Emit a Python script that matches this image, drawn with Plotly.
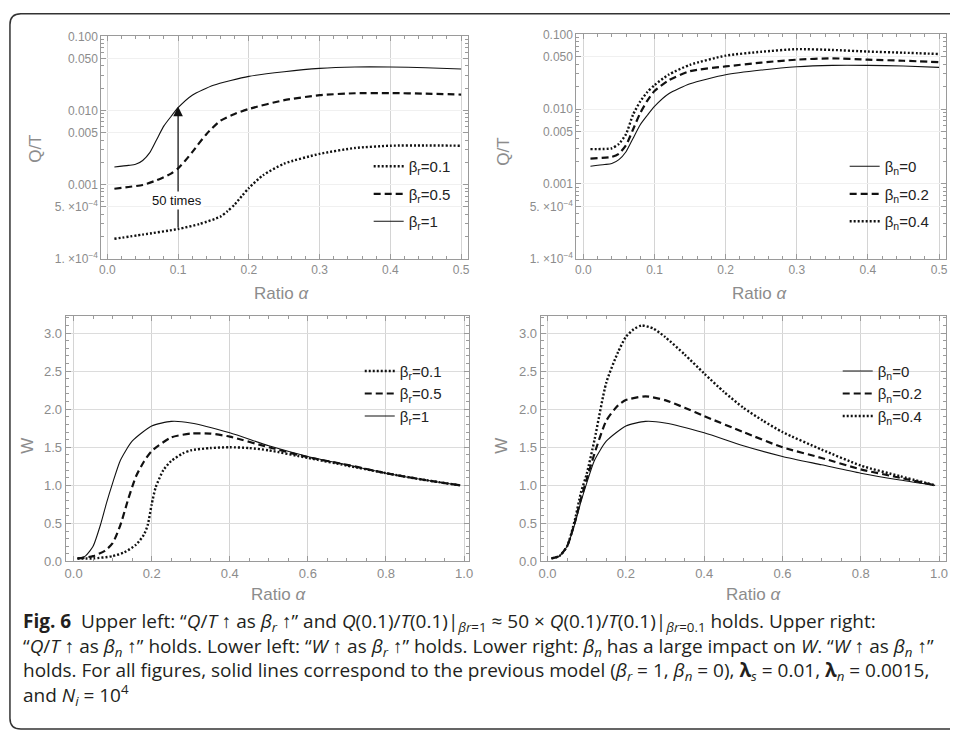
import math
import plotly.graph_objects as go

W, H = 954, 737

# ---------------- data ----------------
# Upper panels: Q/T vs ratio alpha
qt_base_x = [0.01, 0.03, 0.04, 0.05, 0.06, 0.07, 0.08, 0.09, 0.1, 0.12, 0.15, 0.2, 0.25, 0.3, 0.35, 0.4, 0.45, 0.5]
qt_base_y = [0.00173, 0.00182, 0.00188, 0.00212, 0.0027, 0.0041, 0.0062, 0.0083, 0.0109, 0.0161, 0.0219, 0.0289, 0.0334, 0.037, 0.0386, 0.0386, 0.0378, 0.0363]

qt_br05_x = [0.01, 0.03, 0.05, 0.07, 0.09, 0.1, 0.11, 0.12, 0.14, 0.16, 0.18, 0.2, 0.25, 0.3, 0.35, 0.4, 0.45, 0.5]
qt_br05_y = [0.00088, 0.00093, 0.00099, 0.00115, 0.00141, 0.00166, 0.0021, 0.00275, 0.0048, 0.0073, 0.0090, 0.0105, 0.0138, 0.0161, 0.0171, 0.0172, 0.0169, 0.0164]

qt_br01_x = [0.01, 0.05, 0.1, 0.13, 0.16, 0.17, 0.18, 0.19, 0.2, 0.22, 0.25, 0.3, 0.35, 0.4, 0.45, 0.5]
qt_br01_y = [0.000186, 0.000212, 0.000252, 0.000294, 0.00037, 0.00044, 0.00054, 0.0007, 0.0009, 0.00134, 0.00192, 0.0026, 0.00312, 0.00335, 0.00338, 0.00335]

qt_bn02_x = [0.01, 0.04, 0.05, 0.06, 0.07, 0.08, 0.09, 0.1, 0.12, 0.15, 0.2, 0.25, 0.3, 0.35, 0.4, 0.45, 0.5]
qt_bn02_y = [0.00219, 0.0023, 0.00254, 0.0033, 0.0054, 0.0089, 0.013, 0.0175, 0.0244, 0.0323, 0.0373, 0.042, 0.046, 0.0479, 0.046, 0.0445, 0.0425]

qt_bn04_x = [0.01, 0.04, 0.05, 0.06, 0.07, 0.08, 0.09, 0.1, 0.12, 0.15, 0.2, 0.25, 0.3, 0.35, 0.4, 0.45, 0.5]
qt_bn04_y = [0.00293, 0.0030, 0.00344, 0.00465, 0.0085, 0.0127, 0.017, 0.021, 0.029, 0.0393, 0.052, 0.0586, 0.0635, 0.062, 0.059, 0.057, 0.0547]

# Lower panels: W vs ratio alpha
w_base_x = [0.01, 0.03, 0.05, 0.07, 0.085, 0.1, 0.12, 0.15, 0.2, 0.25, 0.3, 0.4, 0.5, 0.6, 0.7, 0.8, 0.9, 0.99]
w_base_y = [0.04, 0.07, 0.2, 0.5, 0.78, 1.03, 1.33, 1.58, 1.78, 1.84, 1.82, 1.69, 1.52, 1.38, 1.27, 1.16, 1.07, 1.0]

w_br05_x = [0.01, 0.05, 0.08, 0.1, 0.12, 0.14, 0.16, 0.18, 0.2, 0.25, 0.3, 0.35, 0.4, 0.5, 0.6, 0.7, 0.8, 0.9, 0.99]
w_br05_y = [0.04, 0.07, 0.14, 0.24, 0.48, 0.82, 1.12, 1.31, 1.45, 1.63, 1.68, 1.68, 1.64, 1.5, 1.37, 1.27, 1.16, 1.07, 1.0]

w_br01_x = [0.01, 0.05, 0.1, 0.13, 0.16, 0.18, 0.19, 0.2, 0.21, 0.23, 0.25, 0.28, 0.3, 0.35, 0.4, 0.45, 0.5, 0.6, 0.7, 0.8, 0.9, 0.99]
w_br01_y = [0.04, 0.04, 0.07, 0.12, 0.22, 0.35, 0.48, 0.75, 0.97, 1.2, 1.32, 1.42, 1.46, 1.49, 1.5, 1.49, 1.46, 1.36, 1.26, 1.16, 1.07, 1.0]

w_bn02_x = [0.01, 0.03, 0.05, 0.07, 0.085, 0.1, 0.12, 0.15, 0.18, 0.2, 0.25, 0.3, 0.35, 0.4, 0.5, 0.6, 0.7, 0.8, 0.9, 0.99]
w_bn02_y = [0.04, 0.07, 0.2, 0.52, 0.82, 1.08, 1.42, 1.85, 2.05, 2.12, 2.17, 2.12, 2.02, 1.91, 1.7, 1.5, 1.36, 1.21, 1.1, 1.0]

w_bn04_x = [0.01, 0.03, 0.05, 0.07, 0.085, 0.1, 0.12, 0.15, 0.18, 0.2, 0.22, 0.24, 0.27, 0.3, 0.35, 0.4, 0.45, 0.5, 0.55, 0.6, 0.7, 0.8, 0.9, 0.99]
w_bn04_y = [0.04, 0.07, 0.2, 0.55, 0.9, 1.15, 1.6, 2.35, 2.75, 2.95, 3.05, 3.1, 3.06, 2.95, 2.72, 2.47, 2.23, 2.02, 1.85, 1.7, 1.47, 1.26, 1.12, 1.0]

qt_tickvals = [1e-4, 5e-4, 1e-3, 5e-3, 0.01, 0.05, 0.1]
qt_ticktext = ["1. \u00d710<sup>\u22124</sup>", "5. \u00d710<sup>\u22124</sup>", "0.001", "0.005", "0.010", "0.050", "0.100"]
qt_minor = [k * 10 ** e for e in (-4, -3, -2) for k in (2, 3, 4, 6, 7, 8, 9)]

# arrow in upper-left panel
arrow_alpha = 0.1
arrow_from = 0.000252
arrow_to = 0.0113
arrow_label = "50 times"
arrow_label_y = 0.00061

# ---------------- styles ----------------
SOLID = dict(color="#111", width=1.1, dash="solid")
DASH = dict(color="#111", width=2.2, dash="7px,4px")
DOT = dict(color="#111", width=2.4, dash="2px,2px")

GRAY = "#8c8c8c"
FAM = "Liberation Sans, Arial, sans-serif"
LEGFONT = dict(family=FAM, size=15, color="#222")


def fx(p):
    return p / W


def fy(p):
    return 1 - p / H


fig = go.Figure()


def add(x, y, line, name, xa, ya, legend, group):
    fig.add_trace(go.Scatter(x=x, y=y, mode="lines", line=line, name=name,
                             xaxis=xa, yaxis=ya, legend=legend, legendgroup=group,
                             line_shape="spline", line_smoothing=0.6, hoverinfo="skip"))


# upper left
add(qt_br01_x, qt_br01_y, DOT, "\u03b2<sub>r</sub>=0.1", "x", "y", "legend", "a1")
add(qt_br05_x, qt_br05_y, DASH, "\u03b2<sub>r</sub>=0.5", "x", "y", "legend", "a2")
add(qt_base_x, qt_base_y, SOLID, "\u03b2<sub>r</sub>=1", "x", "y", "legend", "a3")
# upper right
add(qt_base_x, qt_base_y, SOLID, "\u03b2<sub>n</sub>=0", "x2", "y2", "legend2", "b1")
add(qt_bn02_x, qt_bn02_y, DASH, "\u03b2<sub>n</sub>=0.2", "x2", "y2", "legend2", "b2")
add(qt_bn04_x, qt_bn04_y, DOT, "\u03b2<sub>n</sub>=0.4", "x2", "y2", "legend2", "b3")
# lower left
add(w_br01_x, w_br01_y, DOT, "\u03b2<sub>r</sub>=0.1", "x3", "y3", "legend3", "c1")
add(w_br05_x, w_br05_y, DASH, "\u03b2<sub>r</sub>=0.5", "x3", "y3", "legend3", "c2")
add(w_base_x, w_base_y, SOLID, "\u03b2<sub>r</sub>=1", "x3", "y3", "legend3", "c3")
# lower right
add(w_base_x, w_base_y, SOLID, "\u03b2<sub>n</sub>=0", "x4", "y4", "legend4", "d1")
add(w_bn02_x, w_bn02_y, DASH, "\u03b2<sub>n</sub>=0.2", "x4", "y4", "legend4", "d2")
add(w_bn04_x, w_bn04_y, DOT, "\u03b2<sub>n</sub>=0.4", "x4", "y4", "legend4", "d3")


def axis_common(fs):
    return dict(showline=True, linecolor="#9a9a9a", linewidth=1, mirror="allticks",
                ticks="inside", ticklen=5, tickcolor="#9a9a9a", tickwidth=1,
                tickfont=dict(family=FAM, size=fs, color=GRAY), zeroline=False,
                showgrid=True, gridwidth=1.2)


def xaxis(dom, rng, dtick, mdtick, anchor, fs):
    d = axis_common(fs)
    d.update(domain=[fx(dom[0]), fx(dom[1])], range=rng, dtick=dtick, tick0=0,
             tickformat=".1f", gridcolor="#d4d4d4", anchor=anchor,
             minor=dict(ticks="inside", ticklen=3, tickcolor="#9a9a9a", dtick=mdtick, tick0=0, showgrid=False))
    return d


def yaxis_log(dom, anchor, fs):
    d = axis_common(fs)
    d.update(domain=[fy(dom[1]), fy(dom[0])], type="log", range=[-4, -1],
             tickmode="array", tickvals=qt_tickvals, ticktext=qt_ticktext,
             gridcolor="#f0f0f0", gridwidth=1, anchor=anchor,
             minor=dict(ticks="inside", ticklen=3, tickcolor="#9a9a9a", tickmode="array",
                        tickvals=qt_minor, showgrid=False))
    return d


def yaxis_lin(dom, anchor, fs):
    d = axis_common(fs)
    d.update(domain=[fy(dom[1]), fy(dom[0])], range=[0, 3.23], dtick=0.5, tick0=0,
             tickformat=".1f", gridcolor="#dcdcdc", gridwidth=1, anchor=anchor,
             minor=dict(ticks="inside", ticklen=3, tickcolor="#9a9a9a", dtick=0.1, tick0=0, showgrid=False))
    return d


layout = dict(
    width=W, height=H, autosize=False,
    margin=dict(l=0, r=0, t=0, b=0),
    paper_bgcolor="white", plot_bgcolor="white",
    showlegend=True,
    xaxis=xaxis((100, 469), [-0.0084, 0.5098], 0.1, 0.02, "y", 12),
    yaxis=yaxis_log((30, 257), "x", 12),
    xaxis2=xaxis((578, 950), [-0.0098, 0.5098], 0.1, 0.02, "y2", 12),
    yaxis2=yaxis_log((28, 257), "x2", 12),
    xaxis3=xaxis((64, 470), [-0.0204, 1.0127], 0.2, 0.05, "y3", 13),
    yaxis3=yaxis_lin((315, 566), "x3", 13),
    xaxis4=xaxis((542, 950), [-0.0178, 1.0178], 0.2, 0.05, "y4", 13),
    yaxis4=yaxis_lin((315, 566), "x4", 13),
)


def legend(xp, yp, gap):
    return dict(x=fx(xp), y=fy(yp), xanchor="left", yanchor="top", bgcolor="rgba(0,0,0,0)",
                font=LEGFONT, tracegroupgap=gap, traceorder="grouped", borderwidth=0)


layout["legend"] = legend(369, 146, 5)
layout["legend2"] = legend(848, 146, 5)
layout["legend3"] = legend(360, 355, 0)
layout["legend4"] = legend(841, 355, 0)
fig.update_layout(**layout)

# axis titles
TITLEFONT = dict(family=FAM, size=17, color=GRAY)
titles = [
    ("Q/T", 33, 145, -90), ("Ratio <i>\u03b1</i>", 281, 292, 0),
    ("Q/T", 505, 148, -90), ("Ratio <i>\u03b1</i>", 762, 292, 0),
    ("W", 26, 448, -90), ("Ratio <i>\u03b1</i>", 278, 600, 0),
    ("W", 503, 448, -90), ("Ratio <i>\u03b1</i>", 756, 600, 0),
]
for t, x, y, a in titles:
    fig.add_annotation(text=t, x=fx(x), y=fy(y), xref="paper", yref="paper", showarrow=False,
                       textangle=a, font=TITLEFONT, xanchor="center", yanchor="middle")

# arrow "50 times"
fig.add_annotation(x=arrow_alpha, y=math.log10(arrow_to), ax=arrow_alpha, ay=math.log10(arrow_from),
                   xref="x", yref="y", axref="x", ayref="y", text="", showarrow=True,
                   arrowhead=2, arrowsize=1.6, arrowwidth=1.2, arrowcolor="#111", standoff=0)
fig.add_annotation(x=0.098, y=math.log10(arrow_label_y), xref="x", yref="y", text=arrow_label,
                   showarrow=False, bgcolor="white", borderpad=1,
                   font=dict(family=FAM, size=13, color="#111"))

# caption (one block, line breaks as in the reference)
CAPFONT = dict(family="Open Sans, Liberation Sans, Arial, sans-serif", size=19, color="#231f20")
caption_lines = [
    "<b>Fig. 6</b>  Upper left: \u201c<i>Q</i>/<i>T</i> \u2191 as <i>\u03b2<sub>r</sub></i> \u2191\u201d and "
    "<i>Q</i>(0.1)/<i>T</i>(0.1)|<sub><i>\u03b2r</i>=1</sub> \u2248 50 \u00d7 <i>Q</i>(0.1)/<i>T</i>(0.1)|<sub><i>\u03b2r</i>=0.1</sub> holds. Upper right:",
    "\u201c<i>Q</i>/<i>T</i> \u2191 as <i>\u03b2<sub>n</sub></i> \u2191\u201d holds. Lower left: \u201c<i>W</i> \u2191 as "
    "<i>\u03b2<sub>r</sub></i> \u2191\u201d holds. Lower right: <i>\u03b2<sub>n</sub></i> has a large impact on <i>W</i>. "
    "\u201c<i>W</i> \u2191 as <i>\u03b2<sub>n</sub></i> \u2191\u201d",
    "holds. For all figures, solid lines correspond to the previous model (<i>\u03b2<sub>r</sub></i> = 1, "
    "<i>\u03b2<sub>n</sub></i> = 0), <b>\u03bb</b><sub><i>s</i></sub> = 0.01, <b>\u03bb</b><sub><i>n</i></sub> = 0.0015,",
    "and <i>N<sub>i</sub></i> = 10<sup>4</sup>",
]
fig.add_annotation(text="<br>".join(caption_lines), x=fx(19), y=fy(611), xref="paper", yref="paper",
                   showarrow=False, xanchor="left", yanchor="top", align="left", font=CAPFONT)

# frame around figure
path = (f"M {fx(954)},{fy(7)} L {fx(19)},{fy(7)} Q {fx(8)},{fy(7)} {fx(8)},{fy(18)} "
        f"L {fx(8)},{fy(726)} Q {fx(8)},{fy(737)} {fx(19)},{fy(737)} L {fx(954)},{fy(737)}")
fig.add_shape(type="path", path=path, xref="paper", yref="paper", line=dict(color="#333", width=1.5))

fig.write_html("out.html", config={"displayModeBar": False},
               post_script="document.body.style.margin='0px';document.body.style.overflow='hidden';")
